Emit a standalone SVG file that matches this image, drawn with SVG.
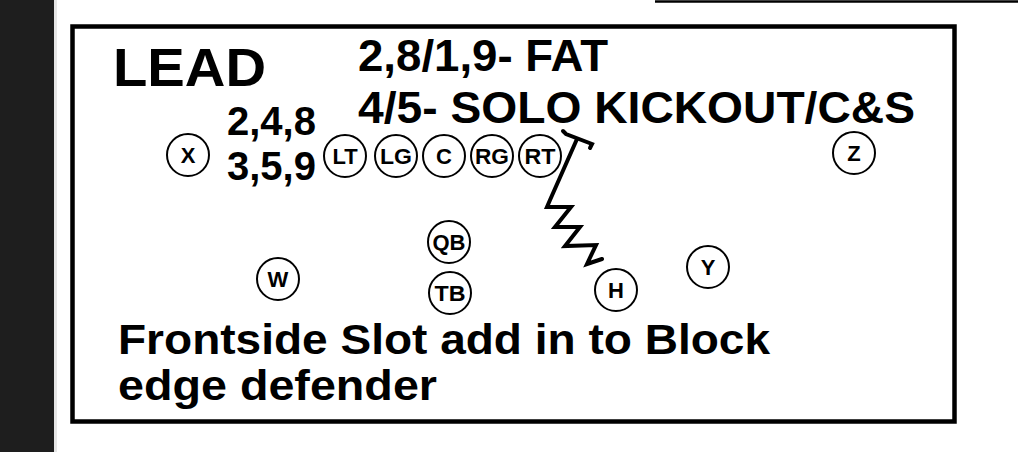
<svg xmlns="http://www.w3.org/2000/svg" width="1018" height="452" viewBox="0 0 1018 452">
<style>
.t{font-family:"Liberation Sans",Arial,sans-serif;font-weight:bold;fill:#000}
.p circle{fill:#fff;stroke:#000;stroke-width:2}
.p text{font-family:"Liberation Sans",Arial,sans-serif;font-weight:bold;font-size:22px;text-anchor:middle;fill:#000}
.r{fill:none;stroke:#000;stroke-width:4;stroke-linejoin:miter;stroke-linecap:round}
</style>
<rect x="0" y="0" width="1018" height="452" fill="#fff"/>
<rect x="0" y="0" width="54" height="452" fill="#1e1e1e"/>
<rect x="54" y="0" width="3" height="452" fill="#e6e6e6"/>
<line x1="655" y1="1.5" x2="1018" y2="1.5" stroke="#000" stroke-width="2.5"/>
<rect x="72.5" y="26.5" width="882" height="395" fill="none" stroke="#000" stroke-width="4.5"/>
<g id="titles">
<text class="t" x="113" y="86" font-size="54" textLength="153" lengthAdjust="spacingAndGlyphs">LEAD</text>
<text class="t" x="358" y="71" font-size="44" textLength="250" lengthAdjust="spacingAndGlyphs">2,8/1,9- FAT</text>
<text class="t" x="358" y="123" font-size="44" textLength="557" lengthAdjust="spacingAndGlyphs">4/5- SOLO KICKOUT/C&amp;S</text>
<text class="t" x="227" y="135" font-size="40" textLength="89" lengthAdjust="spacingAndGlyphs">2,4,8</text>
<text class="t" x="227" y="180" font-size="40" textLength="89" lengthAdjust="spacingAndGlyphs">3,5,9</text>
<text class="t" x="118" y="354" font-size="43" textLength="652" lengthAdjust="spacingAndGlyphs">Frontside Slot add in to Block</text>
<text class="t" x="118" y="400" font-size="43" textLength="319" lengthAdjust="spacingAndGlyphs">edge defender</text>
</g>
<g id="connectors">
<path class="r" d="M563 131 L566 134 L592 144 L590 148"/>
<path class="r" d="M577 139 L550 200 L547 207 L571 207 L555 227 L580 227 L565 246 L596 245 L587 264 L602 259"/>
</g>
<g id="X" class="p"><circle cx="188" cy="155" r="21"/><text x="188" y="163">X</text></g>
<g id="LT" class="p"><circle cx="345" cy="156" r="21"/><text x="345" y="164">LT</text></g>
<g id="LG" class="p"><circle cx="396" cy="156" r="21"/><text x="396" y="164" textLength="32" lengthAdjust="spacingAndGlyphs">LG</text></g>
<g id="C" class="p"><circle cx="444" cy="156" r="21"/><text x="444" y="164">C</text></g>
<g id="RG" class="p"><circle cx="492" cy="156" r="21"/><text x="492" y="164" textLength="34" lengthAdjust="spacingAndGlyphs">RG</text></g>
<g id="RT" class="p"><circle cx="540" cy="156" r="21"/><text x="540" y="164" textLength="31" lengthAdjust="spacingAndGlyphs">RT</text></g>
<g id="Z" class="p"><circle cx="854" cy="153" r="21"/><text x="854" y="161">Z</text></g>
<g id="QB" class="p"><circle cx="449" cy="242" r="21"/><text x="449" y="250" textLength="33" lengthAdjust="spacingAndGlyphs">QB</text></g>
<g id="TB" class="p"><circle cx="450" cy="293" r="21"/><text x="450" y="301" textLength="31" lengthAdjust="spacingAndGlyphs">TB</text></g>
<g id="W" class="p"><circle cx="278" cy="279" r="21"/><text x="278" y="287">W</text></g>
<g id="H" class="p"><circle cx="616" cy="290" r="21"/><text x="616" y="298">H</text></g>
<g id="Y" class="p"><circle cx="708" cy="267" r="21"/><text x="708" y="275">Y</text></g>
</svg>
